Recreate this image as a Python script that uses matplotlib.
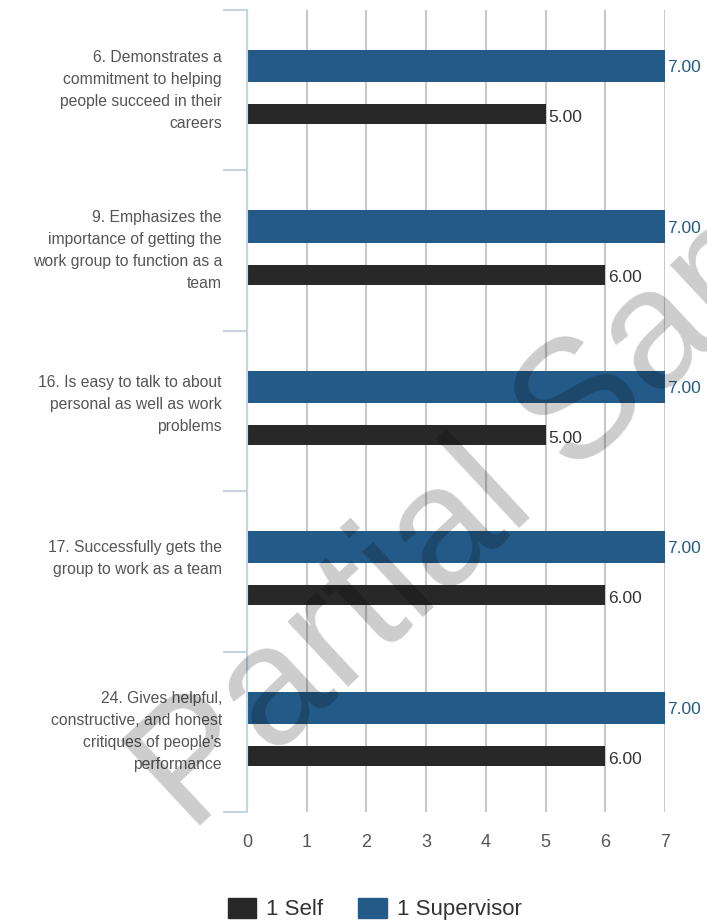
import numpy as np
import matplotlib.pyplot as plt
from matplotlib.patches import Patch

plt.rcParams['font.family'] = ['Liberation Sans', 'DejaVu Sans']

items = [
    "6. Demonstrates a\ncommitment to helping\npeople succeed in their\ncareers",
    "9. Emphasizes the\nimportance of getting the\nwork group to function as a\nteam",
    "16. Is easy to talk to about\npersonal as well as work\nproblems",
    "17. Successfully gets the\ngroup to work as a team",
    "24. Gives helpful,\nconstructive, and honest\ncritiques of people's\nperformance",
]
self_scores = [5, 6, 5, 6, 6]
supervisor_scores = [7, 7, 7, 7, 7]
x_ticks = [0, 1, 2, 3, 4, 5, 6, 7]

c_self = '#282828'
c_sup = '#245a87'
c_text = '#555555'
c_axis = '#c5d3e2'

fig = plt.figure(figsize=(7.07, 9.24), dpi=100)
ax = fig.add_axes([0.3494, 0.1212, 0.5912, 0.868])

n = len(items)
pos = np.arange(n)
ax.barh(pos + 0.35, supervisor_scores, height=0.2, color=c_sup, zorder=3)
ax.barh(pos + 0.65, self_scores, height=0.125, color=c_self, zorder=3)

for i in range(n):
    ax.text(supervisor_scores[i] + 0.04, pos[i] + 0.36, f"{supervisor_scores[i]:.2f}",
            color=c_sup, fontsize=12.5, va='center', ha='left', clip_on=False)
    ax.text(self_scores[i] + 0.04, pos[i] + 0.67, f"{self_scores[i]:.2f}",
            color='#333333', fontsize=12.5, va='center', ha='left', clip_on=False)
    # shorter labels sit a little above the middle of their band
    nlines = items[i].count("\n") + 1
    ax.text(-0.42, pos[i] + 0.5 - 0.04 * (4 - nlines), items[i], ha='right', va='center',
            color=c_text, fontsize=11.3, linespacing=1.58, clip_on=False)

ax.set_xlim(0, 7)
ax.set_ylim(n, 0)
ax.set_xticks(x_ticks)
ax.set_xticklabels([str(t) for t in x_ticks])
ax.set_yticks(np.arange(n + 1))
ax.set_yticklabels([])
ax.tick_params(axis='y', length=17, width=1.5, color=c_axis)
ax.tick_params(axis='x', length=0, pad=16, labelsize=13, labelcolor=c_text)
ax.xaxis.grid(True, color='#c8c8c8', linewidth=1.5, zorder=0)
for side in ['top', 'right', 'bottom']:
    ax.spines[side].set_visible(False)
ax.spines['left'].set_color(c_axis)
ax.spines['left'].set_linewidth(1.5)
ax.spines['left'].set_zorder(4)

handles = [Patch(color=c_self, label='1 Self'), Patch(color=c_sup, label='1 Supervisor')]
fig.legend(handles=handles, loc='center', bbox_to_anchor=(0.53, 0.016), ncol=2,
           frameon=False, fontsize=16, handlelength=1.3, handleheight=1.0,
           handletextpad=0.45, columnspacing=1.55, labelcolor='#333333')

# watermark across the chart
fig.text(560 / 707, 1 - 430 / 924, "Partial Sample", rotation=43, rotation_mode='anchor',
         ha='center', va='center', fontsize=121, color='black', alpha=0.2, zorder=10)

fig.savefig('out.png', dpi=100)
